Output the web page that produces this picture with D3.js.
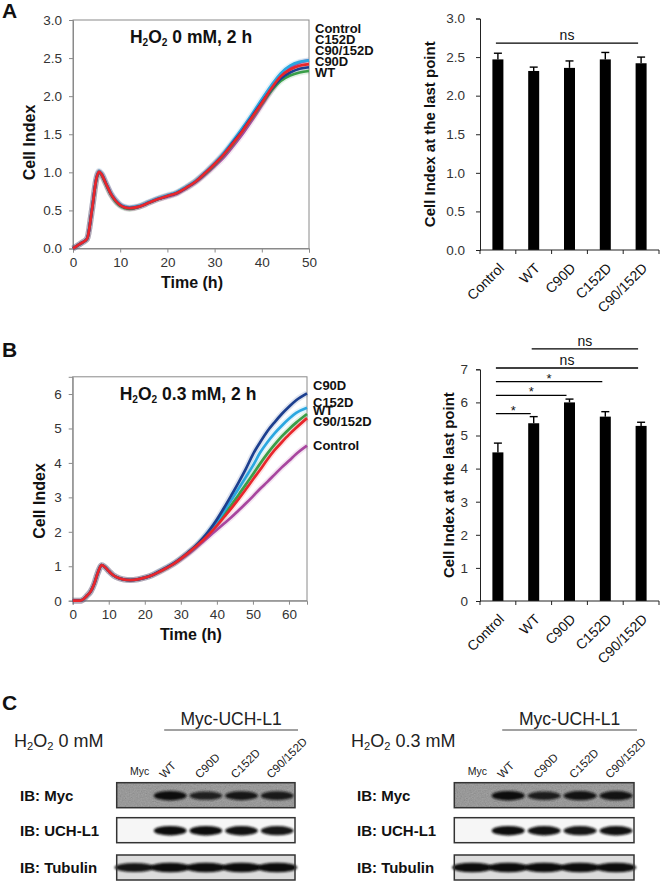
<!DOCTYPE html>
<html><head><meta charset="utf-8">
<script src="https://cdn.jsdelivr.net/npm/d3@7"></script>
<style>body{margin:0;background:#fff}svg{display:block}</style>
</head><body><svg id="c" width="660" height="882"></svg>
<script>
// ---------------- DATA ----------------
const groups = ["Control", "WT", "C90D", "C152D", "C90/152D"];

// Panel A line chart (H2O2 0 mM)
const timesA = [0,1,2,3,4,5,5.5,6,7,8,9,10,11,12,14,16,18,20,22,24,26,28,30,32,34,36,38,40,42,44,46,48,50];
const controlA = [0,0.04,0.08,0.13,0.50,0.93,1.00,0.97,0.85,0.72,0.63,0.57,0.54,0.53,0.55,0.60,0.65,0.68,0.72,0.79,0.87,0.97,1.08,1.20,1.35,1.51,1.69,1.88,2.07,2.25,2.37,2.44,2.47];
const wtA      = [0,0.04,0.08,0.13,0.50,0.92,1.00,0.97,0.84,0.71,0.62,0.56,0.53,0.52,0.55,0.60,0.65,0.69,0.73,0.80,0.88,0.98,1.10,1.23,1.38,1.55,1.72,1.90,2.07,2.20,2.27,2.31,2.33];
const c90dA    = [0,0.04,0.08,0.13,0.50,0.93,1.00,0.98,0.85,0.72,0.63,0.57,0.54,0.53,0.55,0.60,0.65,0.69,0.73,0.80,0.88,0.99,1.11,1.24,1.40,1.56,1.74,1.92,2.09,2.23,2.31,2.36,2.38];
const c152dA   = [0,0.04,0.08,0.13,0.51,0.94,1.02,0.99,0.86,0.73,0.64,0.58,0.55,0.54,0.56,0.61,0.66,0.70,0.74,0.81,0.89,1.00,1.12,1.26,1.42,1.59,1.77,1.96,2.14,2.30,2.40,2.45,2.47];
const c90152dA = [0,0.04,0.08,0.13,0.50,0.93,1.01,0.98,0.85,0.72,0.63,0.57,0.54,0.53,0.55,0.60,0.65,0.69,0.73,0.80,0.88,0.99,1.11,1.24,1.39,1.55,1.73,1.91,2.10,2.26,2.35,2.40,2.42];
const xTicksA = [0,10,20,30,40,50];
const yTicksA = [0,0.5,1.0,1.5,2.0,2.5,3.0];
const endLabelsA = ["Control","C152D","C90/152D","C90D","WT"];

// Panel B line chart (H2O2 0.3 mM)
const timesB = [0,2,2.5,4,5,6,7,8,9,10,11,12,14,16,18,20,22,24,26,28,30,32,34,36,38,40,42,44,46,48,50,52,54,56,58,60,62,65];
const controlB = [0,0,0.01,0.15,0.27,0.50,0.82,1.03,0.97,0.86,0.76,0.69,0.62,0.60,0.62,0.67,0.74,0.83,0.94,1.06,1.20,1.35,1.52,1.70,1.88,2.06,2.24,2.42,2.62,2.82,3.03,3.25,3.45,3.66,3.87,4.06,4.26,4.50];
const wtB      = [0,0,0.01,0.15,0.27,0.50,0.82,1.03,0.97,0.86,0.76,0.69,0.62,0.60,0.62,0.67,0.74,0.84,0.95,1.07,1.22,1.38,1.56,1.76,1.99,2.23,2.50,2.78,3.07,3.37,3.67,3.98,4.27,4.53,4.77,4.98,5.17,5.42];
const c90dB    = [0,0,0.01,0.15,0.27,0.50,0.82,1.03,0.97,0.86,0.76,0.69,0.62,0.60,0.62,0.67,0.74,0.85,0.96,1.08,1.23,1.40,1.58,1.80,2.06,2.36,2.70,3.06,3.43,3.82,4.25,4.60,4.92,5.18,5.42,5.63,5.82,6.02];
const c152dB   = [0,0,0.01,0.15,0.27,0.50,0.82,1.03,0.97,0.86,0.76,0.69,0.62,0.60,0.62,0.67,0.74,0.85,0.96,1.08,1.23,1.39,1.57,1.79,2.03,2.30,2.60,2.92,3.25,3.58,3.92,4.30,4.60,4.86,5.08,5.28,5.45,5.60];
const c90152dB = [0,0,0.01,0.15,0.27,0.50,0.82,1.03,0.97,0.86,0.76,0.69,0.62,0.60,0.62,0.67,0.74,0.84,0.95,1.07,1.22,1.38,1.56,1.74,1.95,2.18,2.43,2.68,2.95,3.23,3.52,3.80,4.10,4.37,4.60,4.82,5.02,5.30];
const xTicksB = [0,10,20,30,40,50,60];
const yTicksB = [0,1,2,3,4,5,6];
const endLabelsB = ["C90D","C152D","WT","C90/152D","Control"];

// Bar charts: cell index at the last point (mean, SEM)
const lastA = [2.47, 2.32, 2.36, 2.47, 2.42];
const semA  = [0.08, 0.05, 0.09, 0.09, 0.08];
const lastB = [4.49, 5.37, 6.00, 5.57, 5.29];
const semB  = [0.28, 0.20, 0.10, 0.15, 0.11];
const barTicksA = [0,0.5,1.0,1.5,2.0,2.5,3.0];
const barTicksB = [0,1,2,3,4,5,6,7];
const sigFrom = ["Control"];
const sigTo = ["C90/152D"];
const sigLevel = [2.68];
const sigText = ["ns"];
const sigFromB  = ["Control","Control","Control","Control","WT"];
const sigToB    = ["WT","C90D","C152D","C90/152D","C90/152D"];
const sigLevelB = [5.66, 6.21, 6.63, 7.04, 7.62];
const sigTextB  = ["*","*","*","ns","ns"];

// Panel C western blots (relative band strength per lane)
const lanes = ["Myc","WT","C90D","C152D","C90/152D"];
const blotRows = ["IB: Myc","IB: UCH-L1","IB: Tubulin"];
const myc0 = [0, 1.0, 0.7, 0.85, 0.8];
const uch0 = [0, 1.0, 1.0, 0.95, 0.9];
const tub0 = [0.9, 1.0, 1.0, 1.0, 1.0];
const myc3 = [0, 1.0, 0.75, 0.9, 0.9];
const uch3 = [0, 1.0, 0.95, 0.9, 0.95];
const tub3 = [1.0, 1.0, 1.0, 1.0, 1.0];

// ---------------- STYLE ----------------
const FONT = 'Arial, "Liberation Sans", sans-serif';
const colors = {"Control":"#a8469f","WT":"#3a9e48","C90D":"#1c3f8f","C152D":"#2ba7e0","C90/152D":"#e8262b"};
const drawOrder = ["Control","WT","C152D","C90D","C90/152D"];

const svg = d3.select("#c").attr("font-family", FONT);
const defs = svg.append("defs");
defs.append("filter").attr("id","bl").attr("x","-20%").attr("y","-50%").attr("width","140%").attr("height","200%")
  .append("feGaussianBlur").attr("stdDeviation", 1.3);
const gr = defs.append("filter").attr("id","grain").attr("x",0).attr("y",0).attr("width","100%").attr("height","100%");
gr.append("feTurbulence").attr("type","fractalNoise").attr("baseFrequency",0.75).attr("numOctaves",2).attr("seed",4);
gr.append("feColorMatrix").attr("type","matrix")
  .attr("values","0.33 0.33 0.33 0 0  0.33 0.33 0.33 0 0  0.33 0.33 0.33 0 0  0 0 0 0 1");

function h2o2(sel, rest, size, sub) {
  const d = size * 0.18;
  sel.append("tspan").text("H");
  sel.append("tspan").attr("font-size", size*sub).attr("dy", d).text("2");
  sel.append("tspan").attr("dy", -d).text("O");
  sel.append("tspan").attr("font-size", size*sub).attr("dy", d).text("2");
  sel.append("tspan").attr("dy", -d).text(rest);
}

function panelLabel(t, x, y) {
  svg.append("text").attr("x", x).attr("y", y).attr("font-size", 21).attr("font-weight","bold").attr("fill","#111").text(t);
}

function lineChart(o) {
  const g = svg.append("g");
  const x = d3.scaleLinear().domain(o.xDomain).range([o.x0, o.x1]);
  const y = d3.scaleLinear().domain(o.yDomain).range([o.yBot, o.yTop]);
  const ax = g.append("g").attr("transform", `translate(0,${o.yBot})`)
    .call(d3.axisBottom(x).tickValues(o.xTicks).tickSize(4).tickPadding(5).tickFormat(d3.format("d")));
  const ay = g.append("g").attr("transform", `translate(${o.x0},0)`)
    .call(d3.axisLeft(y).tickValues(o.yTicks).tickSize(4).tickPadding(7).tickFormat(o.yFmt));
  [ax, ay].forEach(a => {
    a.attr("font-family", FONT).attr("font-size", 13.5);
    a.selectAll("line,path").attr("stroke", "#8a8a8a");
    a.selectAll("text").attr("fill", "#333");
  });
  g.append("rect").attr("x", o.x0).attr("y", o.yTop).attr("width", o.x1 - o.x0).attr("height", o.yBot - o.yTop)
    .attr("fill","none").attr("stroke","#8a8a8a").attr("stroke-width",1);
  const line = d3.line().x((d,i) => x(o.times[i])).y(d => y(d)).curve(d3.curveMonotoneX);
  drawOrder.forEach(k => {
    g.append("path").attr("d", line(o.series[k])).attr("fill","none").attr("stroke", colors[k])
      .attr("stroke-width", 6).attr("stroke-opacity", 0.14).attr("stroke-linejoin","round");
  });
  drawOrder.forEach(k => {
    g.append("path").attr("d", line(o.series[k])).attr("fill","none").attr("stroke", colors[k])
      .attr("stroke-width", 2.7).attr("stroke-linejoin","round");
  });
  const t = g.append("text").attr("x", o.titleX).attr("y", o.titleY).attr("text-anchor","middle")
    .attr("font-size", 17.5).attr("font-weight","bold").attr("fill","#111");
  h2o2(t, o.titleRest, 17.5, 0.58);
  o.endLabels.forEach((k,i) => {
    g.append("text").attr("x", o.x1 + 6).attr("y", o.endY[i]).attr("font-size", 13).attr("font-weight","bold")
      .attr("fill","#111").text(k);
  });
  g.append("text").attr("x", (o.x0+o.x1)/2 + 1).attr("y", o.yBot + 39).attr("text-anchor","middle")
    .attr("font-size", 16).attr("font-weight","bold").attr("fill","#111").text("Time (h)");
  g.append("text").attr("transform", `translate(${o.yTitleX},${o.yTitleY}) rotate(-90)`).attr("text-anchor","middle")
    .attr("font-size", 16).attr("font-weight","bold").attr("fill","#111").text("Cell Index");
}

function barChart(o) {
  const g = svg.append("g");
  const x = d3.scaleBand().domain(groups).range([o.x0, o.x1]);
  const y = d3.scaleLinear().domain(o.yDomain).range([o.yBot, o.yTop]);
  const bw = 11;
  const cx = k => x(k) + x.bandwidth()/2;
  g.selectAll(".bar").data(groups).join("rect")
    .attr("x", k => cx(k) - bw/2).attr("width", bw)
    .attr("y", (k,i) => y(o.values[i])).attr("height", (k,i) => y(0) - y(o.values[i])).attr("fill","#000");
  groups.forEach((k,i) => {
    const top = y(o.values[i] + o.err[i]);
    g.append("line").attr("x1", cx(k)).attr("x2", cx(k)).attr("y1", y(o.values[i])).attr("y2", top).attr("stroke","#000").attr("stroke-width",1.4);
    g.append("line").attr("x1", cx(k)-4).attr("x2", cx(k)+4).attr("y1", top).attr("y2", top).attr("stroke","#000").attr("stroke-width",1.4);
  });
  const ay = g.append("g").attr("transform", `translate(${o.x0},0)`)
    .call(d3.axisLeft(y).tickValues(o.ticks).tickSize(4).tickPadding(o.tickPad).tickFormat(o.yFmt));
  ay.attr("font-family", FONT).attr("font-size", 13.5);
  ay.selectAll("line,path").attr("stroke","#222");
  ay.selectAll("text").attr("fill","#333");
  g.append("line").attr("x1", o.x0).attr("x2", o.x1).attr("y1", y(0)).attr("y2", y(0)).attr("stroke","#222");
  const edges = groups.map(k => x(k)).concat([o.x1]);
  edges.forEach(e => g.append("line").attr("x1", e).attr("x2", e).attr("y1", y(0)).attr("y2", y(0)+4).attr("stroke","#222"));
  groups.forEach(k => {
    g.append("text").attr("transform", `translate(${cx(k)+7},${y(0)+19}) rotate(-45)`).attr("text-anchor","end")
      .attr("font-size", 14).attr("fill","#111").text(k);
  });
  g.append("text").attr("transform", `translate(${o.yTitleX},${(o.yTop+o.yBot)/2}) rotate(-90)`).attr("text-anchor","middle")
    .attr("font-size", 15).attr("font-weight","bold").attr("fill","#111").text("Cell Index at the last point");
  o.sig.forEach(s => {
    const yy = y(s.level);
    const xa = cx(s.from) - 2, xb = cx(s.to) - 3;
    g.append("line").attr("x1", xa).attr("x2", xb).attr("y1", yy).attr("y2", yy).attr("stroke","#000").attr("stroke-width",1.3);
    g.append("text").attr("x", (xa+xb)/2).attr("y", s.text === "*" ? yy + 1 : yy - 3).attr("text-anchor","middle")
      .attr("font-size", s.text === "*" ? 13 : 14).attr("fill","#111").text(s.text);
  });
}

function blot(o) {
  const g = svg.append("g");
  const x = d3.scaleBand().domain(lanes).range([o.x0, o.x1]);
  const cx = k => x(k) + x.bandwidth()/2;
  const t = g.append("text").attr("x", o.condX).attr("y", 746.5).attr("font-size", 18).attr("fill","#222");
  h2o2(t, o.condRest, 18, 0.62);
  const hx0 = cx("WT") - 6, hx1 = o.x1 + 3;
  g.append("text").attr("x", (hx0+hx1)/2).attr("y", 725).attr("text-anchor","middle").attr("font-size", 17.5).attr("fill","#222").text("Myc-UCH-L1");
  g.append("line").attr("x1", hx0).attr("x2", hx1).attr("y1", 730).attr("y2", 730).attr("stroke","#444").attr("stroke-width",1.2);
  lanes.forEach((k,i) => {
    if (i === 0) {
      g.append("text").attr("x", cx(k) + 5).attr("y", 775).attr("text-anchor","middle").attr("font-size", 10.5).attr("fill","#222").text(k);
    } else {
      g.append("text").attr("transform", `translate(${cx(k)-6},779) rotate(-45)`).attr("font-size", 11.5).attr("fill","#222").text(k);
    }
  });
  const rowsY = [782.7, 817.7, 855];
  const rowH = 25;
  const bgs = ["#8a8a8a", "#f6f6f6", "#dcdcdc"];
  o.rows.forEach((vals, r) => {
    const y0 = rowsY[r];
    g.append("rect").attr("x", o.x0).attr("y", y0).attr("width", o.x1-o.x0).attr("height", rowH).attr("fill", bgs[r]);
    if (r === 0) {
      g.append("rect").attr("x", o.x0).attr("y", y0).attr("width", o.x1-o.x0).attr("height", rowH)
        .attr("filter","url(#grain)").attr("opacity", 0.3);
    }
    vals.forEach((v,i) => {
      if (v <= 0) return;
      const k = lanes[i];
      g.append("ellipse").attr("cx", cx(k)).attr("cy", y0 + rowH/2 + (r===2?0:0.5))
        .attr("rx", x.bandwidth() * (r === 2 ? 0.56 : 0.46)).attr("ry", 2.6 + 2.2*v)
        .attr("fill", "#111").attr("opacity", 0.55 + 0.45*v).attr("filter","url(#bl)");
    });
    g.append("rect").attr("x", o.x0).attr("y", y0).attr("width", o.x1-o.x0).attr("height", rowH)
      .attr("fill","none").attr("stroke","#333").attr("stroke-width",1.5);
    g.append("text").attr("x", o.labelX).attr("y", y0 + rowH/2 + 5.5).attr("font-size", 15).attr("font-weight","bold")
      .attr("fill","#111").text(blotRows[r]);
  });
}

// ---------------- DRAW ----------------
panelLabel("A", 2, 18);
panelLabel("B", 2, 357);
panelLabel("C", 2, 710);

lineChart({
  times: timesA,
  series: {"Control":controlA,"WT":wtA,"C90D":c90dA,"C152D":c152dA,"C90/152D":c90152dA},
  xDomain:[0,50], yDomain:[0,3], xTicks:xTicksA, yTicks:yTicksA, yFmt:d3.format(".1f"),
  x0:73, x1:309, yTop:20, yBot:248.5,
  titleX:191, titleY:42.5, titleRest:" 0 mM, 2 h",
  endLabels:endLabelsA, endY:[33, 43.7, 55, 66, 76.5],
  yTitleX:35, yTitleY:142.5
});
lineChart({
  times: timesB,
  series: {"Control":controlB,"WT":wtB,"C90D":c90dB,"C152D":c152dB,"C90/152D":c90152dB},
  xDomain:[0,65], yDomain:[0,6.5], xTicks:xTicksB, yTicks:yTicksB, yFmt:d3.format("d"),
  x0:72.7, x1:307, yTop:376.8, yBot:600.7,
  titleX:188, titleY:400, titleRest:" 0.3 mM, 2 h",
  endLabels:endLabelsB, endY:[390, 406.5, 415, 425.5, 450],
  yTitleX:44.5, yTitleY:501
});

barChart({
  values:lastA, err:semA, ticks:barTicksA, yFmt:d3.format(".1f"), yDomain:[0,3],
  x0:480, x1:659, yTop:18.5, yBot:250, tickPad:11, yTitleX:435,
  sig: sigFrom.map((f,i) => ({from:f, to:sigTo[i], level:sigLevel[i], text:sigText[i]}))
});
barChart({
  values:lastB, err:semB, ticks:barTicksB, yFmt:d3.format("d"), yDomain:[0,7],
  x0:480, x1:659, yTop:369.3, yBot:601, tickPad:8, yTitleX:454,
  sig: sigFromB.map((f,i) => ({from:f, to:sigToB[i], level:sigLevelB[i], text:sigTextB[i]}))
});

blot({x0:116.7, x1:295, labelX:20, condX:14, condRest:" 0 mM", rows:[myc0, uch0, tub0]});
blot({x0:454.3, x1:634, labelX:357, condX:351, condRest:" 0.3 mM", rows:[myc3, uch3, tub3]});
</script></body></html>
